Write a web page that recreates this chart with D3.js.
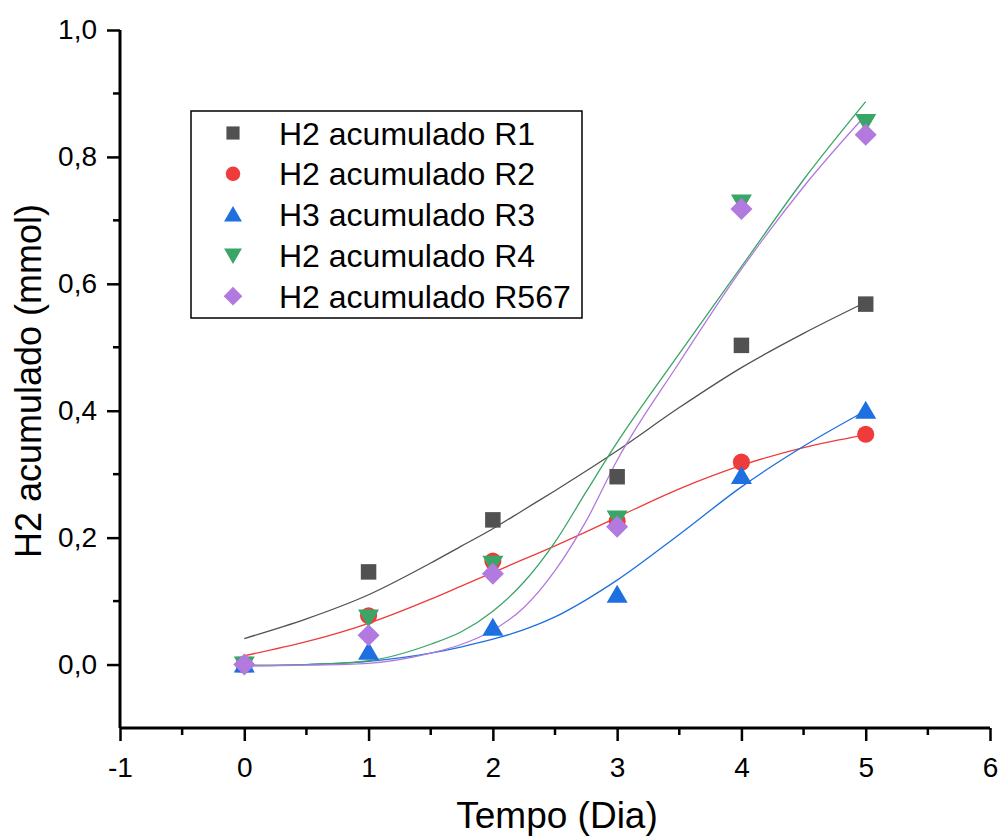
<!DOCTYPE html>
<html>
<head>
<meta charset="utf-8">
<script src="https://cdn.jsdelivr.net/npm/d3@7"></script>
<style>
  body { margin: 0; background: #fff; }
  svg { font-family: "Liberation Sans", Arial, sans-serif; }
</style>
</head>
<body>
<svg id="chart" width="1002" height="837"></svg>
<script>
// measured days
var days = [0, 1, 2, 3, 4, 5]

// points (mmol)
var r1 = [0, 0.146, 0.228, 0.296, 0.503, 0.568]
var r2 = [0, 0.077, 0.163, 0.226, 0.319, 0.363]
var r3 = [0, 0.020, 0.058, 0.110, 0.297, 0.400]
var r4 = [0, 0.074, 0.159, 0.230, 0.728, 0.855]
var r567 = [0, 0.046, 0.143, 0.217, 0.718, 0.835]

// fitted curves
var fitX = [0, 0.5, 1, 1.5, 1.75, 2, 2.25, 2.5, 2.75, 3, 3.5, 4, 4.5, 5]
var fit1 = [0.041, 0.072, 0.110, 0.160, 0.187, 0.214, 0.244, 0.274, 0.305, 0.337, 0.405, 0.468, 0.522, 0.571]
var fit2 = [0.014, 0.036, 0.065, 0.103, 0.124, 0.145, 0.166, 0.187, 0.209, 0.232, 0.277, 0.314, 0.342, 0.362]
var fit3 = [-0.002, 0.000, 0.005, 0.018, 0.028, 0.040, 0.055, 0.075, 0.102, 0.133, 0.205, 0.280, 0.344, 0.400]
var fit4 = [-0.001, 0.000, 0.006, 0.032, 0.052, 0.084, 0.130, 0.193, 0.272, 0.350, 0.490, 0.627, 0.764, 0.887]
var fit567 = [-0.002, -0.001, 0.002, 0.018, 0.032, 0.054, 0.090, 0.148, 0.226, 0.322, 0.476, 0.623, 0.753, 0.866]

var names = ['H2 acumulado R1', 'H2 acumulado R2', 'H3 acumulado R3', 'H2 acumulado R4', 'H2 acumulado R567']
var colors = ['#515151', '#ef3b3c', '#1e6fe0', '#3aa566', '#b279de']

var xTicks = [-1, 0, 1, 2, 3, 4, 5, 6]
var yTicks = [0, 0.2, 0.4, 0.6, 0.8, 1.0]

var series = [
  { name: names[0], color: colors[0], shape: 'square', pts: r1, fit: fit1 },
  { name: names[1], color: colors[1], shape: 'circle', pts: r2, fit: fit2 },
  { name: names[2], color: colors[2], shape: 'up', pts: r3, fit: fit3 },
  { name: names[3], color: colors[3], shape: 'down', pts: r4, fit: fit4 },
  { name: names[4], color: colors[4], shape: 'diamond', pts: r567, fit: fit567 }
]

var svg = d3.select('#chart')
var plotLeft = 120, plotRight = 990, plotTop = 30, plotBottom = 728

var x = d3.scaleLinear().domain([-1, 6]).range([plotLeft, plotRight])
var y = d3.scaleLinear().domain([-0.1, 1.0]).range([plotBottom, plotTop])

var fmt = function (d) { return d3.format('.1f')(d).replace('.', ',') }

// symbol path centred at 0,0
var shapeFor = function (shape) {
  if (shape === 'square') return d3.symbol().type(d3.symbolSquare).size(240)()
  if (shape === 'circle') return d3.symbol().type(d3.symbolCircle).size(230)()
  if (shape === 'diamond') return 'M0,-11L11,0L0,11L-11,0Z'
  if (shape === 'up') return 'M0,-10L10.5,8L-10.5,8Z'
  return 'M0,10L10.5,-8L-10.5,-8Z'
}

// fit lines
var line = d3.line()
  .x((d, i) => x(fitX[i]))
  .y((d) => y(d))
  .curve(d3.curveMonotoneX)

svg.append('g')
  .selectAll('path')
  .data(series)
  .join('path')
  .attr('fill', 'none')
  .attr('stroke', (d) => d.color)
  .attr('stroke-width', 1.3)
  .attr('d', (d) => line(d.fit))

// markers (drawn in series order so the later ones sit on top)
series.forEach(function (s) {
  svg.append('g')
    .selectAll('path')
    .data(s.pts)
    .join('path')
    .attr('transform', (d, i) => 'translate(' + x(days[i]) + ',' + y(d) + ')')
    .attr('d', shapeFor(s.shape))
    .attr('fill', s.color)
})

// axes
var xAxis = d3.axisBottom(x).tickValues(xTicks).tickSize(13).tickPadding(16)
  .tickFormat((d) => String(d))
var yAxis = d3.axisLeft(y).tickValues(yTicks).tickSize(13).tickPadding(10).tickFormat(fmt)

var gx = svg.append('g').attr('transform', 'translate(0,' + plotBottom + ')').call(xAxis)
var gy = svg.append('g').attr('transform', 'translate(' + plotLeft + ',0)').call(yAxis)

// minor ticks
gx.selectAll('.minor')
  .data(d3.range(-0.5, 6, 1))
  .join('line')
  .attr('class', 'minor')
  .attr('x1', (d) => x(d)).attr('x2', (d) => x(d))
  .attr('y1', 0).attr('y2', 7)
  .attr('stroke', '#000').attr('stroke-width', 2.5)

gy.selectAll('.minor')
  .data([0.1, 0.3, 0.5, 0.7, 0.9])
  .join('line')
  .attr('class', 'minor')
  .attr('y1', (d) => y(d)).attr('y2', (d) => y(d))
  .attr('x1', 0).attr('x2', -7)
  .attr('stroke', '#000').attr('stroke-width', 2.5)

gx.select('.domain').attr('d', 'M' + plotLeft + ',0H' + plotRight)
gy.select('.domain').attr('d', 'M0,' + plotTop + 'V' + plotBottom)

;[gx, gy].forEach(function (g) {
  g.select('.domain').attr('stroke', '#000').attr('stroke-width', 3)
  g.selectAll('.tick line').attr('stroke', '#000').attr('stroke-width', 2.5)
  g.selectAll('.tick text')
    .style('font-size', '28px')
    .style('font-family', '"Liberation Sans", Arial, sans-serif')
    .attr('fill', '#000')
})

// axis titles
svg.append('text')
  .attr('x', 557).attr('y', 828)
  .attr('text-anchor', 'middle')
  .style('font-size', '37px')
  .text('Tempo (Dia)')

svg.append('text')
  .attr('transform', 'translate(41,381) rotate(-90)')
  .attr('text-anchor', 'middle')
  .style('font-size', '36px')
  .text('H2 acumulado (mmol)')

// legend
var legend = svg.append('g').attr('transform', 'translate(191,111)')
legend.append('rect')
  .attr('width', 391).attr('height', 207)
  .attr('fill', '#fff').attr('stroke', '#000').attr('stroke-width', 1.5)

var row = legend.selectAll('g.row')
  .data(series)
  .join('g')
  .attr('class', 'row')
  .attr('transform', (d, i) => 'translate(0,' + (22 + i * 40.8) + ')')

row.append('path')
  .attr('transform', 'translate(42,0) scale(0.85)')
  .attr('d', (d) => shapeFor(d.shape))
  .attr('fill', (d) => d.color)

row.append('text')
  .attr('x', 88).attr('y', 11.5)
  .style('font-size', '32px')
  .text((d) => d.name)
</script>
</body>
</html>
